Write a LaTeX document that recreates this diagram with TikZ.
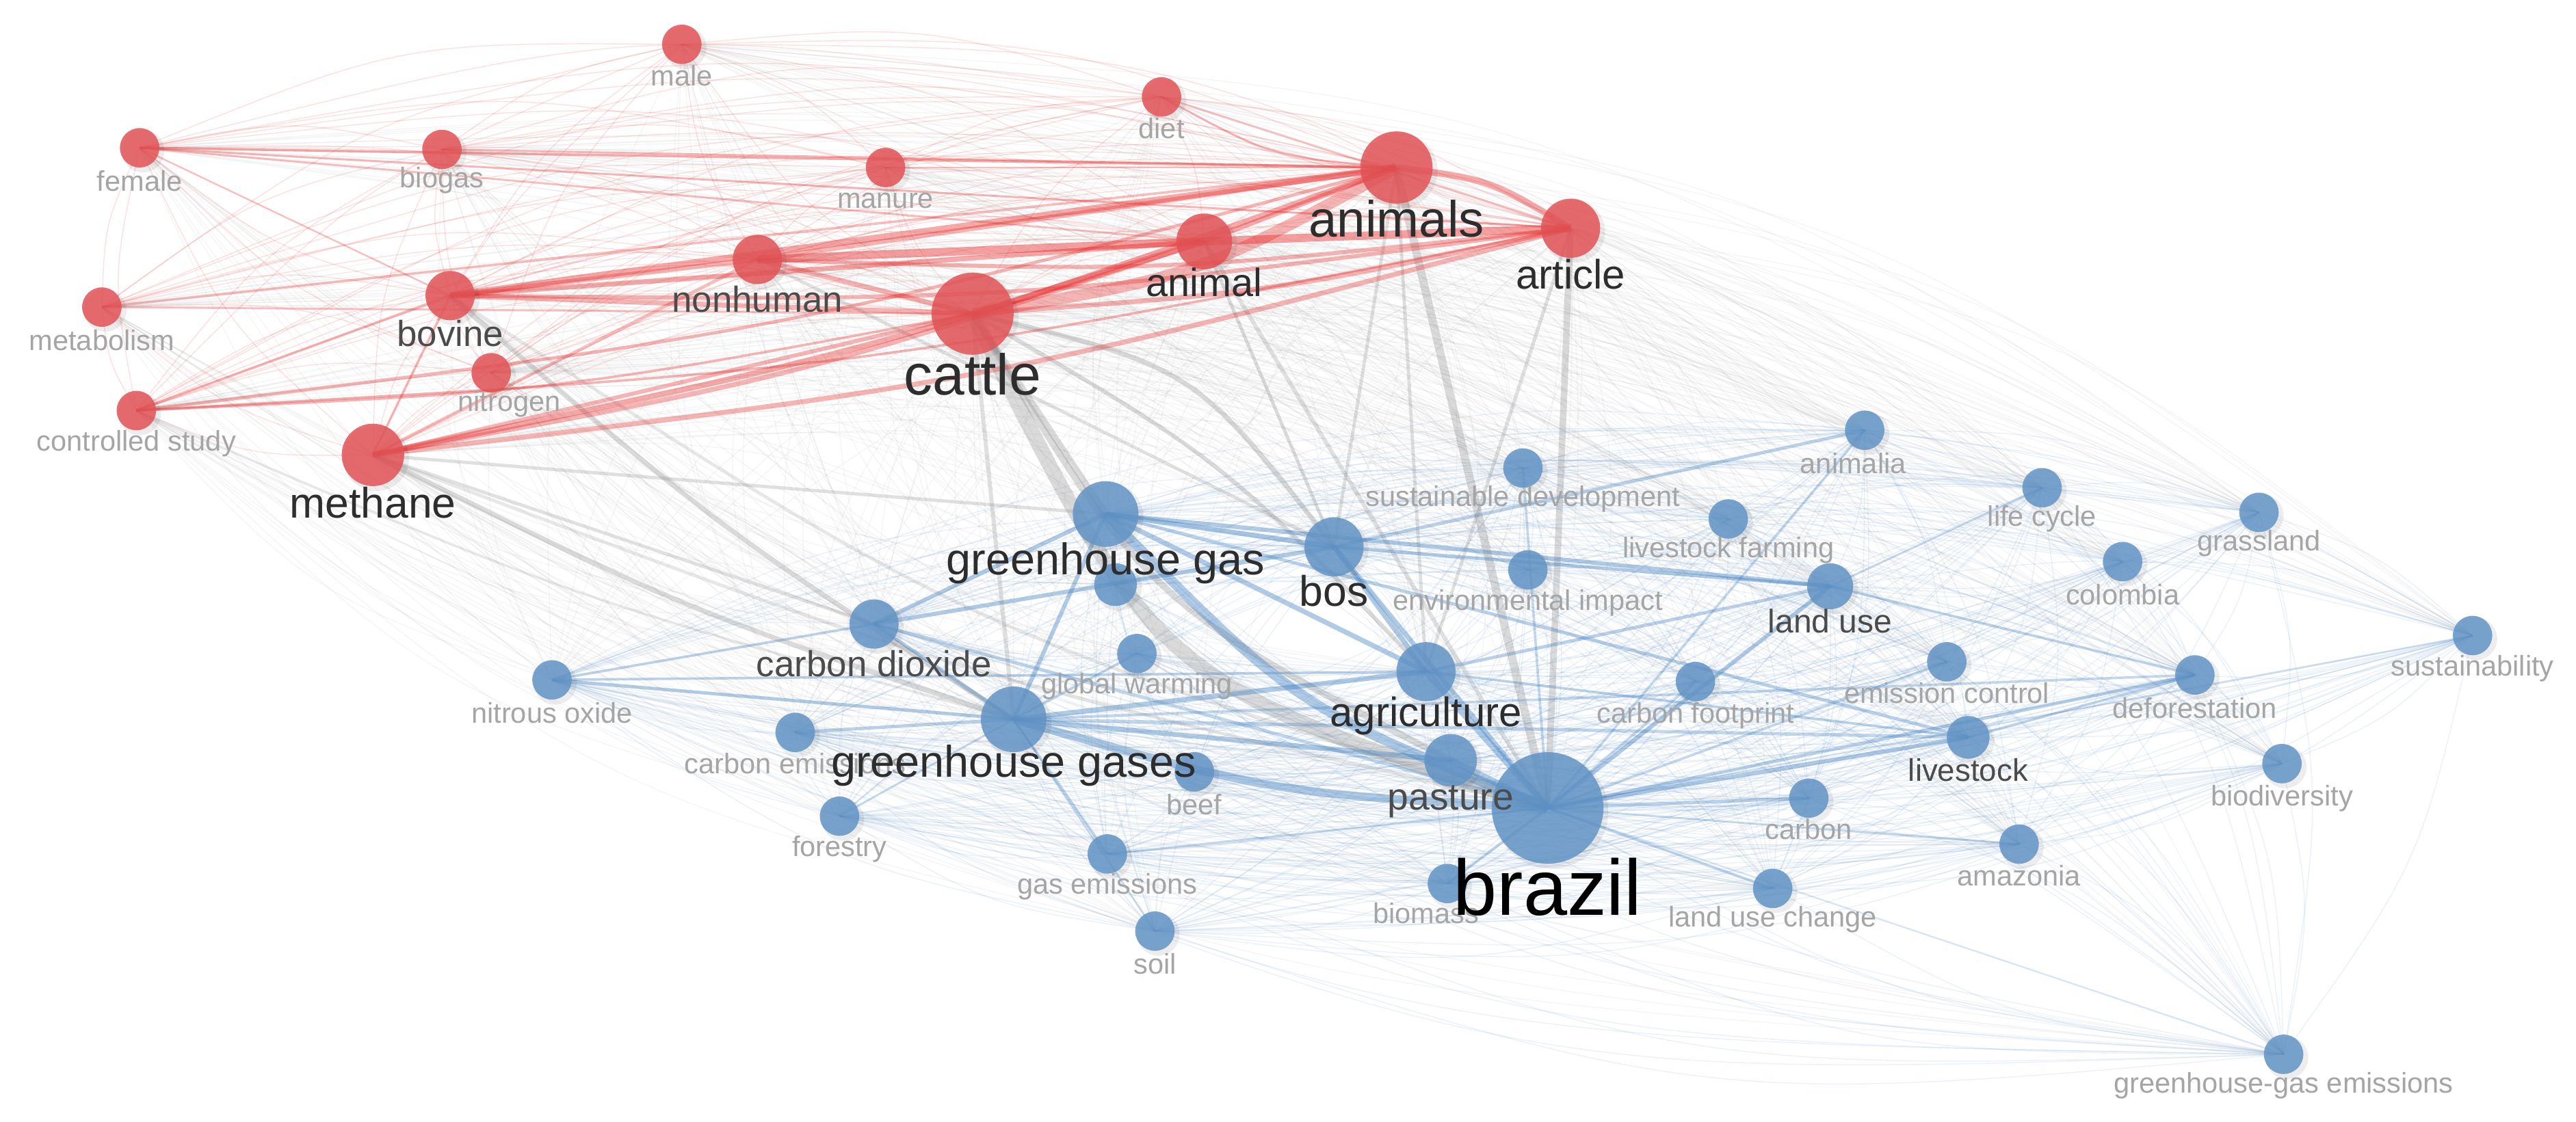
\documentclass[tikz,border=0pt]{standalone}
\usepackage{fontspec}
\setmainfont{Liberation Sans}
\usetikzlibrary{calc}
\definecolor{redN}{RGB}{226,83,86}
\definecolor{blueN}{RGB}{98,148,198}
\definecolor{redE}{RGB}{232,45,45}
\definecolor{blueE}{RGB}{62,126,192}
\definecolor{grayE}{RGB}{135,135,135}
\definecolor{lsmall}{RGB}{165,165,165}
\definecolor{lmid}{RGB}{75,75,75}
\definecolor{lbig}{RGB}{45,45,45}
\def\rednodes{male/415/27/12,diet/707/59/12,female/85/90/12,biogas/269/91/12,manure/539/102/12,animals/850/102/22,article/956/139/18,animal/733/147/17,nonhuman/461/158/15,bovine/274/180/15,metabolism/62/187/12,nitrogen/299/227/12,cattle/592/191/25,controlled/83/250/12,methane/227/277/19}
\def\bluenodes{animalia/1135/262/12,sustdev/927/285/12,lifecycle/1243/297/12,grassland/1375/312/12,ghg/673/313/20,bos/812/333/18,lsfarming/1052/316/12,colombia/1292/342/12,envimpact/930/347/12,landuse/1114/357/14,hid/679/356/13,co2/532/380/15,globwarm/692/398/12,sustain/1505/387/12,n2o/336/414/12,agri/868/409/18,cfoot/1032/415/12,emctrl/1185/403/12,defor/1336/411/12,ghgs/617/438/20,cemis/484/446/12,livestock/1198/449/13,pasture/883/463/16,brazil/942/492/34,biodiv/1389/465/12,beef/727/470/12,carbon/1101/486/12,forestry/511/497/12,amazonia/1229/514/12,gasemis/674/520/12,biomass/881/538/12,luc/1079/541/12,soil/703/567/12,ghgemis/1390/642/12}
\def\redlist{male,diet,female,biogas,manure,animals,article,animal,nonhuman,bovine,metabolism,nitrogen,cattle,controlled,methane}
\def\bluelist{animalia,sustdev,lifecycle,grassland,ghg,bos,lsfarming,colombia,envimpact,landuse,hid,co2,globwarm,sustain,n2o,agri,cfoot,emctrl,defor,ghgs,cemis,livestock,pasture,brazil,biodiv,beef,carbon,forestry,amazonia,gasemis,biomass,luc,soil,ghgemis}
% curved link, bulging away from the picture centre
\newcommand\edgecurve[4]{\draw[#1] let \p1=(#2), \p2=(#3), \n1={(#4)*sign(((\y2-\y1)/100)*((\x1+\x2)/200-8)-((\x2-\x1)/100)*((\y1+\y2)/200+3.8))} in (#2) .. controls ({0.5*\x1+0.5*\x2+\n1*(\y2-\y1)},{0.5*\y1+0.5*\y2-\n1*(\x2-\x1)}) .. (#3);}
% curved link, bulging to the given side
\newcommand\edgefix[4]{\draw[#1] let \p1=(#2), \p2=(#3) in (#2) .. controls ({0.5*\x1+0.5*\x2+(#4)*(\y2-\y1)},{0.5*\y1+0.5*\y2-(#4)*(\x2-\x1)}) .. (#3);}
\begin{document}
\begin{tikzpicture}[x=1pt,y=-1pt,
  rmesh/.style={draw=redE,line width=0.6pt,draw opacity=0.14},
  bmesh/.style={draw=blueE,line width=0.6pt,draw opacity=0.10},
  gmesh/.style={draw=grayE,line width=0.55pt,draw opacity=0.08},
  rnode/.style={circle,fill=redN,fill opacity=0.85,inner sep=0pt},
  bnode/.style={circle,fill=blueN,fill opacity=0.85,inner sep=0pt},
  shad/.style={circle,fill=black,fill opacity=0.07,inner sep=0pt},
  lab/.style={inner sep=0pt,anchor=center}]
\useasboundingbox (0,0) rectangle (1568,683);
\fill[white] (0,0) rectangle (1568,683);
% positions
\foreach \n/\x/\y/\r in \rednodes {\coordinate (\n) at (\x,\y);}
\foreach \n/\x/\y/\r in \bluenodes {\coordinate (\n) at (\x,\y);}
% mesh of faint links
\foreach \a in \redlist {\foreach \b in \bluelist {\edgecurve{gmesh}{\a}{\b}{0.12}}}
\foreach \a [count=\i] in \redlist {\foreach \b [count=\j] in \redlist {\ifnum\j>\i\relax\edgecurve{rmesh}{\a}{\b}{0.10}\fi}}
\foreach \a [count=\i] in \bluelist {\foreach \b [count=\j] in \bluelist {\ifnum\j>\i\relax\edgecurve{bmesh}{\a}{\b}{0.10}\fi}}
% strong gray links
\foreach \a/\b/\w/\bd/\o in {cattle/brazil/9/30/0.3,cattle/ghg/4/0/0.3,cattle/pasture/4/20/0.3,cattle/bos/3/-25/0.3,cattle/agri/2.5/-10/0.3,cattle/ghgs/2.5/0/0.25,animals/brazil/5/0/0.3,article/brazil/4/0/0.3,animal/bos/2/0/0.3,animal/brazil/2.5/0/0.25,bovine/ghgs/3/5/0.3,methane/ghgs/3/5/0.3,methane/co2/2/0/0.25,methane/ghg/2/0/0.25,methane/brazil/2/5/0.2,animals/bos/2/0/0.25,animals/agri/2/0/0.25,nonhuman/bos/2/0/0.25,article/agri/2/0/0.25,bovine/brazil/2/10/0.2,controlled/ghgs/1.5/5/0.2}
  {\edgefix{draw=grayE,line width=\w pt,draw opacity=\o}{\a}{\b}{0.007*\bd}}
% strong blue links
\foreach \a/\b/\w/\bd/\o in {ghg/brazil/6/15/0.4,ghgs/brazil/5/8/0.4,ghg/bos/3/0/0.45,ghg/agri/3/0/0.4,ghg/landuse/2.5/0/0.4,bos/brazil/3/0/0.4,bos/agri/3/0/0.4,agri/brazil/4/0/0.4,pasture/brazil/4/0/0.4,co2/ghg/2.5/0/0.4,co2/bos/2.5/0/0.4,co2/ghgs/2/0/0.4,co2/brazil/2/0/0.3,ghgs/agri/3/0/0.4,ghgs/pasture/3/0/0.4,ghgs/ghg/2.5/0/0.4,n2o/ghgs/2/0/0.4,n2o/co2/1.5/0/0.35,n2o/agri/1.5/0/0.35,cemis/ghgs/2/0/0.35,landuse/brazil/2.5/0/0.4,livestock/brazil/2.5/0/0.4,defor/brazil/2/0/0.35,defor/livestock/1.5/0/0.35,carbon/brazil/2/0/0.35,luc/brazil/1.5/0/0.35,animalia/bos/2/0/0.35,animalia/brazil/1.5/0/0.3,bos/landuse/2/0/0.4,agri/landuse/2/0/0.35,agri/livestock/1.5/0/0.35,gasemis/ghgs/1.5/0/0.35,globwarm/ghgs/1.5/0/0.35,biomass/brazil/1.5/0/0.35,sustdev/brazil/1.5/0/0.3,cfoot/brazil/1.5/0/0.3,emctrl/brazil/1.5/0/0.3,amazonia/brazil/1.2/0/0.3,defor/landuse/1.5/0/0.35,lifecycle/landuse/1.2/0/0.3,ghg/livestock/2/0/0.35,ghgs/livestock/2/0/0.3,sustain/brazil/1/0/0.25,forestry/ghgs/1.2/0/0.3,soil/ghgs/1/0/0.3,gasemis/brazil/1.2/0/0.3,ghgemis/brazil/1/0/0.2,ghgs/defor/1.5/0/0.3}
  {\edgefix{draw=blueE,line width=\w pt,draw opacity=\o}{\a}{\b}{0.007*\bd}}
% strong red links
\foreach \a/\b/\w/\bd/\o in {cattle/animals/7/12/0.35,cattle/animal/4/0/0.4,cattle/article/3/5/0.35,nonhuman/animal/5/0/0.45,nonhuman/animals/3/0/0.35,nonhuman/article/2.5/5/0.35,bovine/animals/4/0/0.4,bovine/animal/3/0/0.4,bovine/article/2.5/5/0.35,bovine/cattle/3/0/0.35,bovine/nonhuman/3/0/0.35,methane/animals/3.5/5/0.4,methane/article/3/5/0.35,methane/animal/3/5/0.35,methane/cattle/2.5/0/0.35,methane/nonhuman/2/0/0.3,methane/bovine/1.5/0/0.3,animals/article/4/-15/0.4,animal/article/5/0/0.45,animal/animals/3/0/0.4,female/animals/1.5/0/0.4,female/article/1.2/0/0.35,female/animal/1.2/0/0.3,female/bovine/1/0/0.3,biogas/animals/1.2/0/0.35,controlled/animals/2/5/0.35,controlled/article/1.5/5/0.35,controlled/cattle/1.5/5/0.35,controlled/bovine/1.5/0/0.35,metabolism/animals/1.5/0/0.3,metabolism/cattle/1.2/0/0.3,diet/animals/1.2/15/0.35,diet/article/1.2/0/0.3,cattle/nonhuman/3/0/0.35,manure/animals/1.2/0/0.3}
  {\edgefix{draw=redE,line width=\w pt,draw opacity=\o}{\a}{\b}{0.007*\bd}}
% nodes
\foreach \n/\x/\y/\r in \rednodes {\node[shad,minimum size=2*\r+2] (s-\n) at (\x+2,\y+2) {};\node[rnode,minimum size=2*\r] (n-\n) at (\n) {};}
\foreach \n/\x/\y/\r in \bluenodes {\node[shad,minimum size=2*\r+2] (s-\n) at (\x+2,\y+2) {};\node[bnode,minimum size=2*\r] (n-\n) at (\n) {};}
% small labels
\foreach \n/\x/\y/\t in {male/415/46/male,diet/707/78/diet,female/85/110/female,biogas/269/110/biogas,manure/539/122/manure,metabolism/62/207/metabolism,nitrogen/310/246/nitrogen,controlled/83/270/controlled study,animalia/1128/282/animalia,sustdev/927/304/sustainable development,lifecycle/1243/316/life cycle,grassland/1375/331/grassland,lsfarming/1052/335/livestock farming,colombia/1292/362/colombia,envimpact/930/367/environmental impact,sustain/1505/407/sustainability,globwarm/692/418/global warming,emctrl/1185/422/emission control,defor/1336/431/deforestation,n2o/336/434/nitrous oxide,cfoot/1032/436/carbon footprint,cemis/484/465/carbon emissions,biodiv/1389/486/biodiversity,beef/727/490/beef,carbon/1101/505/carbon,forestry/511/517/forestry,amazonia/1229/533/amazonia,gasemis/674/540/gas emissions,biomass/868/556/biomass,luc/1079/560/land use change,soil/703/587/soil,ghgemis/1390/661/greenhouse-gas emissions}
  {\node[lab,text=lsmall,font=\fontsize{17.3}{17.3}\selectfont] (l-\n) at (\x,\y) {\t};}
% larger labels
\foreach \n/\x/\y/\t/\fs/\cl in {livestock/1198/469/livestock/19/lmid,landuse/1114/378/land use/20/lmid,bovine/274/203/bovine/22/lmid,nonhuman/461/182/nonhuman/22/lmid,co2/532/404/carbon dioxide/22/lmid,pasture/883/488/pasture/23/lmid,animal/733/172/animal/24/lbig,article/956/167/article/25/lbig,agri/868/436/agriculture/25/lbig,bos/812/360/bos/26/lbig,methane/227/306/methane/26/lbig,ghg/673/343/greenhouse gas/27/lbig,ghgs/617/466/greenhouse gases/27/lbig,animals/850/133/animals/31/lbig,cattle/592/228/cattle/35/lbig,brazil/942/540/brazil/48/black}
  {\node[lab,text=\cl,font=\fontsize{\fs}{\fs}\selectfont] (l-\n) at (\x,\y) {\t};}
\end{tikzpicture}
\end{document}
